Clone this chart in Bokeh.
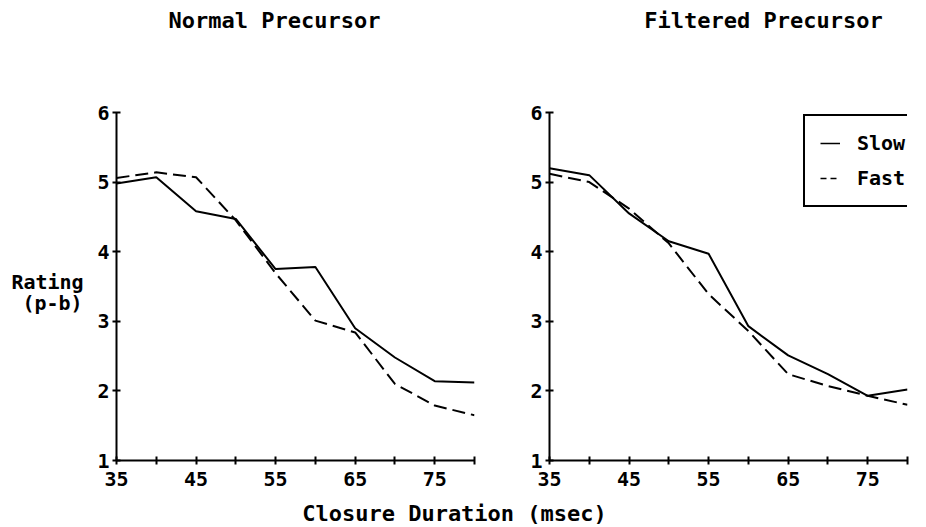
from bokeh.plotting import figure
from bokeh.models import Range1d, FixedTicker, Label, Legend, LegendItem
from bokeh.layouts import row, column
from bokeh.embed import file_html
from bokeh.resources import INLINE

# ---- data ----
closure = [35, 40, 45, 50, 55, 60, 65, 70, 75, 80]
normal_slow = [4.98, 5.07, 4.58, 4.47, 3.75, 3.78, 2.90, 2.48, 2.14, 2.12]
normal_fast = [5.06, 5.14, 5.07, 4.45, 3.69, 3.01, 2.84, 2.10, 1.79, 1.65]
filtered_slow = [5.20, 5.10, 4.55, 4.15, 3.97, 2.93, 2.51, 2.24, 1.93, 2.02]
filtered_fast = [5.12, 5.00, 4.62, 4.12, 3.39, 2.86, 2.24, 2.07, 1.93, 1.80]
x_ticks = [35, 40, 45, 50, 55, 60, 65, 70, 75, 80]
x_tick_labels = {35: "35", 40: "", 45: "45", 50: "", 55: "55", 60: "", 65: "65", 70: "", 75: "75", 80: ""}
y_ticks = [1, 2, 3, 4, 5, 6]
panel_titles = ["Normal Precursor", "Filtered Precursor"]
series_names = ["Slow", "Fast"]
x_title = "Closure Duration (msec)"
y_title = ["Rating", "(p-b)"]

FONT = "DejaVu Sans Mono"
NAN = float("nan")


def strip(width, height):
    s = figure(width=width, height=height, output_backend="svg", toolbar_location=None,
               x_range=Range1d(0, width), y_range=Range1d(0, height),
               x_axis_type=None, y_axis_type=None, min_border=0)
    s.outline_line_color = None
    s.grid.visible = False
    return s


def text_label(x, y, text, size="22px"):
    return Label(x=x, y=y, text=text, text_align="center", text_baseline="middle",
                 text_font=FONT, text_font_style="bold", text_font_size=size,
                 text_color="black")


def make_panel(width, left, right):
    p = figure(width=width, height=440, output_backend="svg", toolbar_location=None,
               x_range=Range1d(35, 80), y_range=Range1d(1, 6),
               min_border_left=left, min_border_right=right,
               min_border_top=52, min_border_bottom=40)
    p.outline_line_color = None
    p.grid.visible = False
    for ax in (p.xaxis[0], p.yaxis[0]):
        ax.axis_line_width = 2
        ax.axis_line_color = "black"
        ax.major_tick_line_width = 2
        ax.major_tick_line_color = "black"
        ax.major_tick_in = 4
        ax.major_tick_out = 4
        ax.minor_tick_line_color = None
        ax.major_label_text_font = FONT
        ax.major_label_text_font_style = "bold"
        ax.major_label_text_font_size = "20px"
        ax.major_label_text_color = "black"
    p.xaxis.ticker = FixedTicker(ticks=x_ticks)
    p.xaxis.major_label_overrides = x_tick_labels
    p.xaxis.major_label_standoff = 7
    p.yaxis.ticker = FixedTicker(ticks=y_ticks)
    p.yaxis.major_label_standoff = 3
    return p


# top strip with the two panel titles
top = strip(926, 60)
top.add_layout(text_label(274, 40, panel_titles[0]))
top.add_layout(text_label(763, 40, panel_titles[1]))

# left strip with the y title
left = strip(88, 440)
left.add_layout(text_label(47, 226, y_title[0], "20px"))
left.add_layout(text_label(52, 199, y_title[1], "20px"))

pL = make_panel(400, 28, 14)
pR = make_panel(438, 61, 19)

pL.line(closure, normal_slow, line_color="black", line_width=2)
pL.line(closure, normal_fast, line_color="black", line_width=2, line_dash="13 6")
pR.line(closure, filtered_slow, line_color="black", line_width=2)
pR.line(closure, filtered_fast, line_color="black", line_width=2, line_dash="13 6")

# legend proxies (draw nothing in the plot area)
r_slow = pR.line(x=[NAN], y=[NAN], line_color="black", line_width=1.5)
r_fast = pR.line(x=[NAN], y=[NAN], line_color="black", line_width=1.5, line_dash="6 4")
legend = Legend(items=[LegendItem(label=series_names[0], renderers=[r_slow]),
                       LegendItem(label=series_names[1], renderers=[r_fast])],
                location=(254, 253), orientation="vertical",
                border_line_color="black", border_line_width=2, border_line_alpha=1.0,
                background_fill_color="white", background_fill_alpha=1.0,
                padding=15, spacing=11, margin=0,
                glyph_width=20, glyph_height=20, label_height=20,
                label_standoff=17, label_width=120,
                label_text_font=FONT, label_text_font_style="bold",
                label_text_font_size="20px", label_text_color="black")
pR.add_layout(legend, "center")

# bottom strip with the x title
bottom = strip(926, 26)
bottom.add_layout(text_label(454, 13, x_title))

layout = column(top, row(left, pL, pR), bottom)
open("out.html", "w").write(file_html(layout, INLINE))
